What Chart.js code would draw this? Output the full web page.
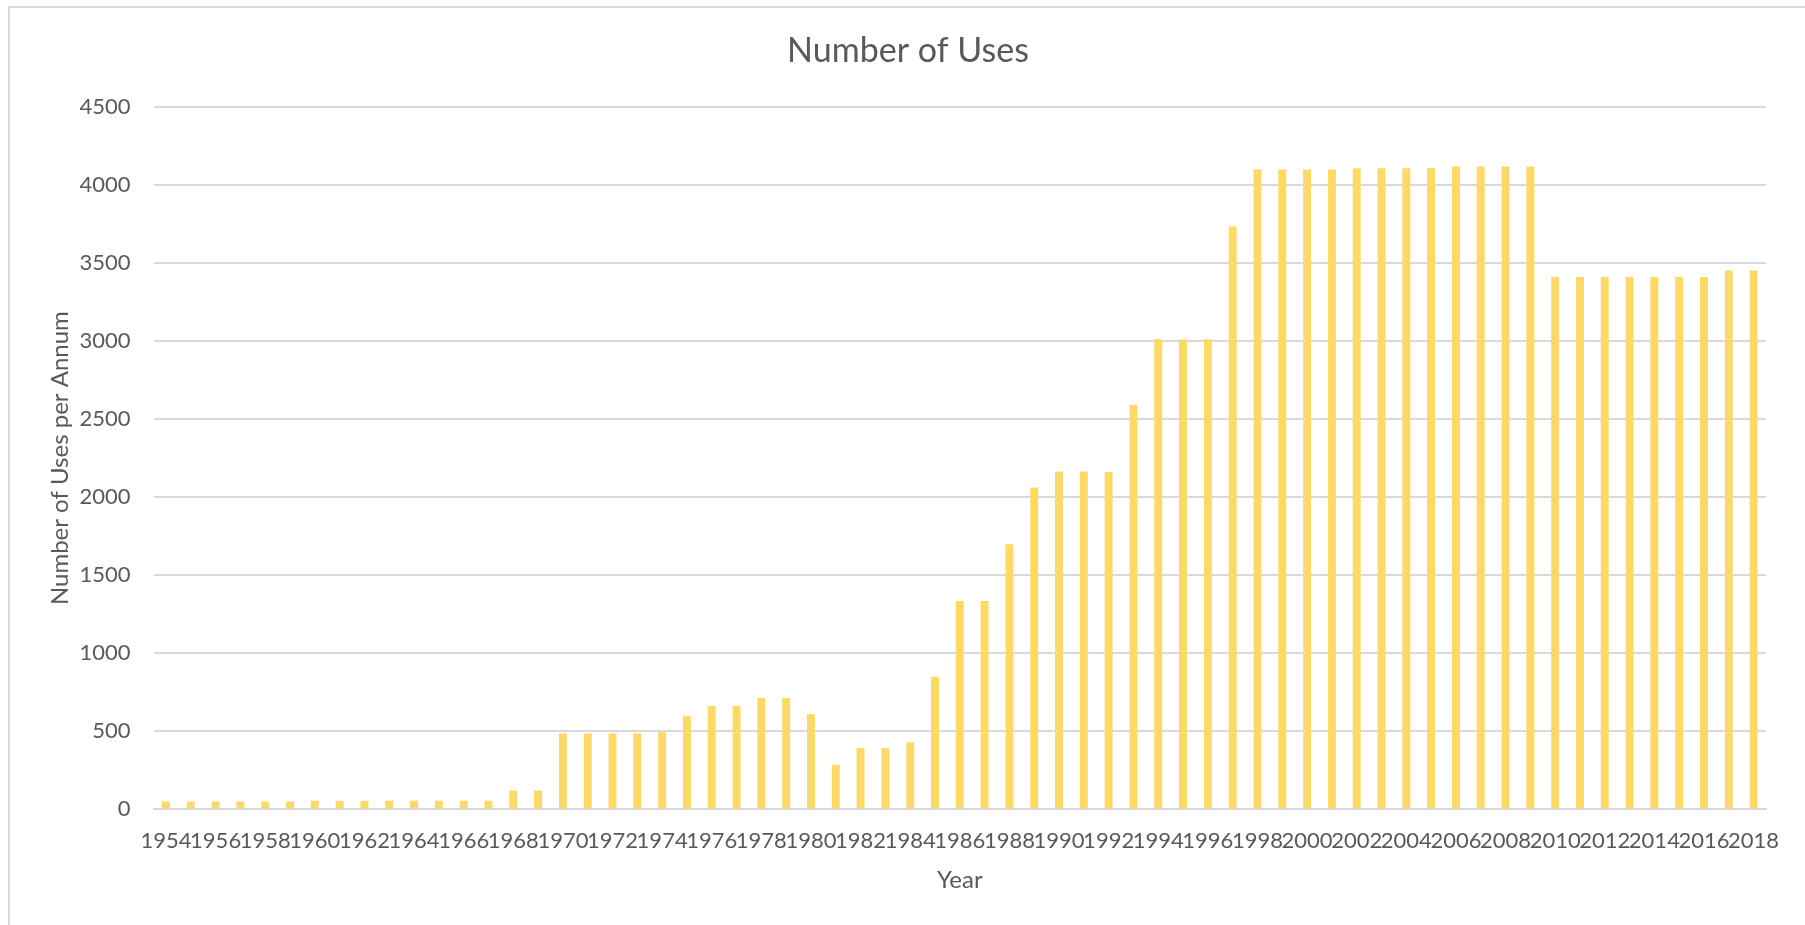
<!DOCTYPE html>
<html>
<head>
<meta charset="utf-8">
<script src="https://cdn.jsdelivr.net/npm/chart.js@4"></script>
<style>
  html, body { margin: 0; padding: 0; background: #fff; }
  #wrap { position: relative; width: 1805px; height: 925px; overflow: hidden; }
  #frame { position: absolute; left: 8px; top: 6px; width: 1900px; height: 1000px;
           border-left: 2px solid #d9d9d9; border-top: 2px solid #d9d9d9; }
  canvas { position: absolute; left: 0; top: 0; }
</style>
</head>
<body>
<div id="wrap">
  <div id="frame"></div>
  <canvas id="c" width="1805" height="925"></canvas>
</div>
<script>
// Years on the category axis
const years = [
  '1954','1955','1956','1957','1958','1959','1960','1961','1962','1963',
  '1964','1965','1966','1967','1968','1969','1970','1971','1972','1973',
  '1974','1975','1976','1977','1978','1979','1980','1981','1982','1983',
  '1984','1985','1986','1987','1988','1989','1990','1991','1992','1993',
  '1994','1995','1996','1997','1998','1999','2000','2001','2002','2003',
  '2004','2005','2006','2007','2008','2009','2010','2011','2012','2013',
  '2014','2015','2016','2017','2018'
];

// Number of uses recorded in each year
const usesPerYear = [
  50, 50, 50, 50, 50, 50, 55, 55, 55, 55,
  55, 55, 55, 55, 120, 120, 485, 485, 485, 485,
  493, 597, 662, 662, 713, 713, 610, 286, 393, 393,
  429, 849, 1334, 1334, 1699, 2062, 2165, 2165, 2161, 2590,
  3012, 3012, 3012, 3735, 4099, 4099, 4099, 4099, 4107, 4107,
  4107, 4107, 4118, 4118, 4118, 4118, 3411, 3411, 3411, 3411,
  3411, 3411, 3411, 3452, 3452
];

// Value axis range and step
const yMin = 0;
const yMax = 4500;
const yStep = 500;

const textColor = '#595959';
const gridColor = '#d9d9d9';
const barColor = '#FFD966';
const fontFamily = 'Lato, "Open Sans", sans-serif';

new Chart(document.getElementById('c'), {
  type: 'bar',
  data: {
    labels: years,
    datasets: [{
      label: 'Number of Uses',
      data: usesPerYear,
      backgroundColor: barColor,
      borderWidth: 0,
      barPercentage: 0.32,
      categoryPercentage: 1.0
    }]
  },
  options: {
    responsive: false,
    animation: false,
    layout: { padding: { left: 11, right: 0, top: 0, bottom: 0 } },
    plugins: {
      legend: { display: false },
      tooltip: { enabled: false },
      title: {
        display: true,
        text: 'Number of Uses',
        color: textColor,
        font: { family: fontFamily, size: 34, weight: 'normal', lineHeight: 1.2 },
        padding: { top: 30.6, bottom: 35.6 }
      }
    },
    scales: {
      x: {
        grid: { display: false, drawTicks: false },
        border: { display: true, color: gridColor, width: 2 },
        ticks: {
          color: textColor,
          autoSkip: false,
          maxRotation: 0,
          minRotation: 0,
          padding: 18,
          font: { family: fontFamily, size: 22 },
          callback: (value, index) => (index % 2 === 0 ? years[index] : '')
        },
        title: {
          display: true,
          text: 'Year',
          color: textColor,
          font: { family: fontFamily, size: 24, lineHeight: 1.2 },
          padding: { top: 0, bottom: 30.6 }
        },
        afterFit: (scale) => { scale.height = 115.7; }
      },
      y: {
        min: yMin,
        max: yMax,
        grid: { color: gridColor, lineWidth: 2, drawTicks: false },
        border: { display: false },
        ticks: {
          stepSize: yStep,
          color: textColor,
          padding: 23,
          font: { family: fontFamily, size: 22 },
          callback: (value) => String(value)
        },
        title: {
          display: true,
          text: 'Number of Uses per Annum',
          color: textColor,
          font: { family: fontFamily, size: 24, lineHeight: 1.2 },
          padding: { top: 34.6, bottom: 0 }
        },
        afterFit: (scale) => { scale.width = 142.6; }
      },
      // empty right-hand spacer that keeps the plot clear of the right edge
      spacer: {
        type: 'linear',
        position: 'right',
        display: true,
        grid: { display: false, drawTicks: false },
        border: { display: false },
        ticks: { display: false },
        afterFit: (scale) => { scale.width = 39; }
      }
    }
  }
});
</script>
</body>
</html>
